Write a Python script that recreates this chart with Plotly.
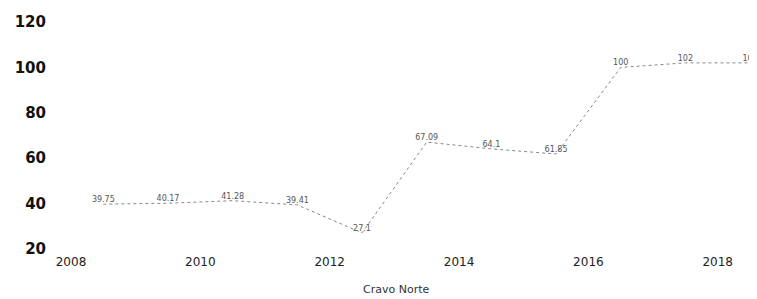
import plotly.graph_objects as go

years = [2008.5, 2009.5, 2010.5, 2011.5, 2012.5, 2013.5, 2014.5, 2015.5, 2016.5, 2017.5, 2018.5]
values = [39.75, 40.17, 41.28, 39.41, 27.1, 67.09, 64.1, 61.85, 100, 102, 102]
labels = ["39.75", "40.17", "41.28", "39.41", "27.1", "67.09", "64.1", "61.85", "100", "102", "102"]
x_ticks = [2008, 2010, 2012, 2014, 2016, 2018]
y_ticks = [20, 40, 60, 80, 100, 120]
title = "Cravo Norte"

fig = go.Figure()
fig.add_trace(go.Scatter(
    x=years, y=values, mode="lines+text",
    text=labels, textposition="top center",
    textfont=dict(family="DejaVu Sans", size=8, color="#555555"),
    line=dict(color="#888888", width=1, dash="dot"),
    showlegend=False, cliponaxis=False,
))

fig.update_layout(
    width=757, height=299,
    margin=dict(l=63, r=2, t=14, b=58),
    paper_bgcolor="white", plot_bgcolor="white",
    xaxis=dict(range=[2008, 2018.7], tickvals=x_ticks, ticktext=[str(t) for t in x_ticks],
               showgrid=False, zeroline=False, showline=False, ticks="",
               ticklabelstandoff=4,
               tickfont=dict(family="DejaVu Sans", size=12, color="#222222")),
    yaxis=dict(range=[20, 120], tickvals=y_ticks, ticktext=[str(t) for t in y_ticks],
               showgrid=False, zeroline=False, showline=False, ticks="",
               ticklabelstandoff=24,
               tickfont=dict(family="DejaVu Sans", size=15, color="#111111", weight="bold")),
    annotations=[dict(text=title, x=0.47, xref="paper", y=-0.18, yref="paper",
                      yanchor="middle", xanchor="center", showarrow=False,
                      font=dict(family="DejaVu Sans", size=11, color="#333333"))],
)

fig.write_html("out.html")
